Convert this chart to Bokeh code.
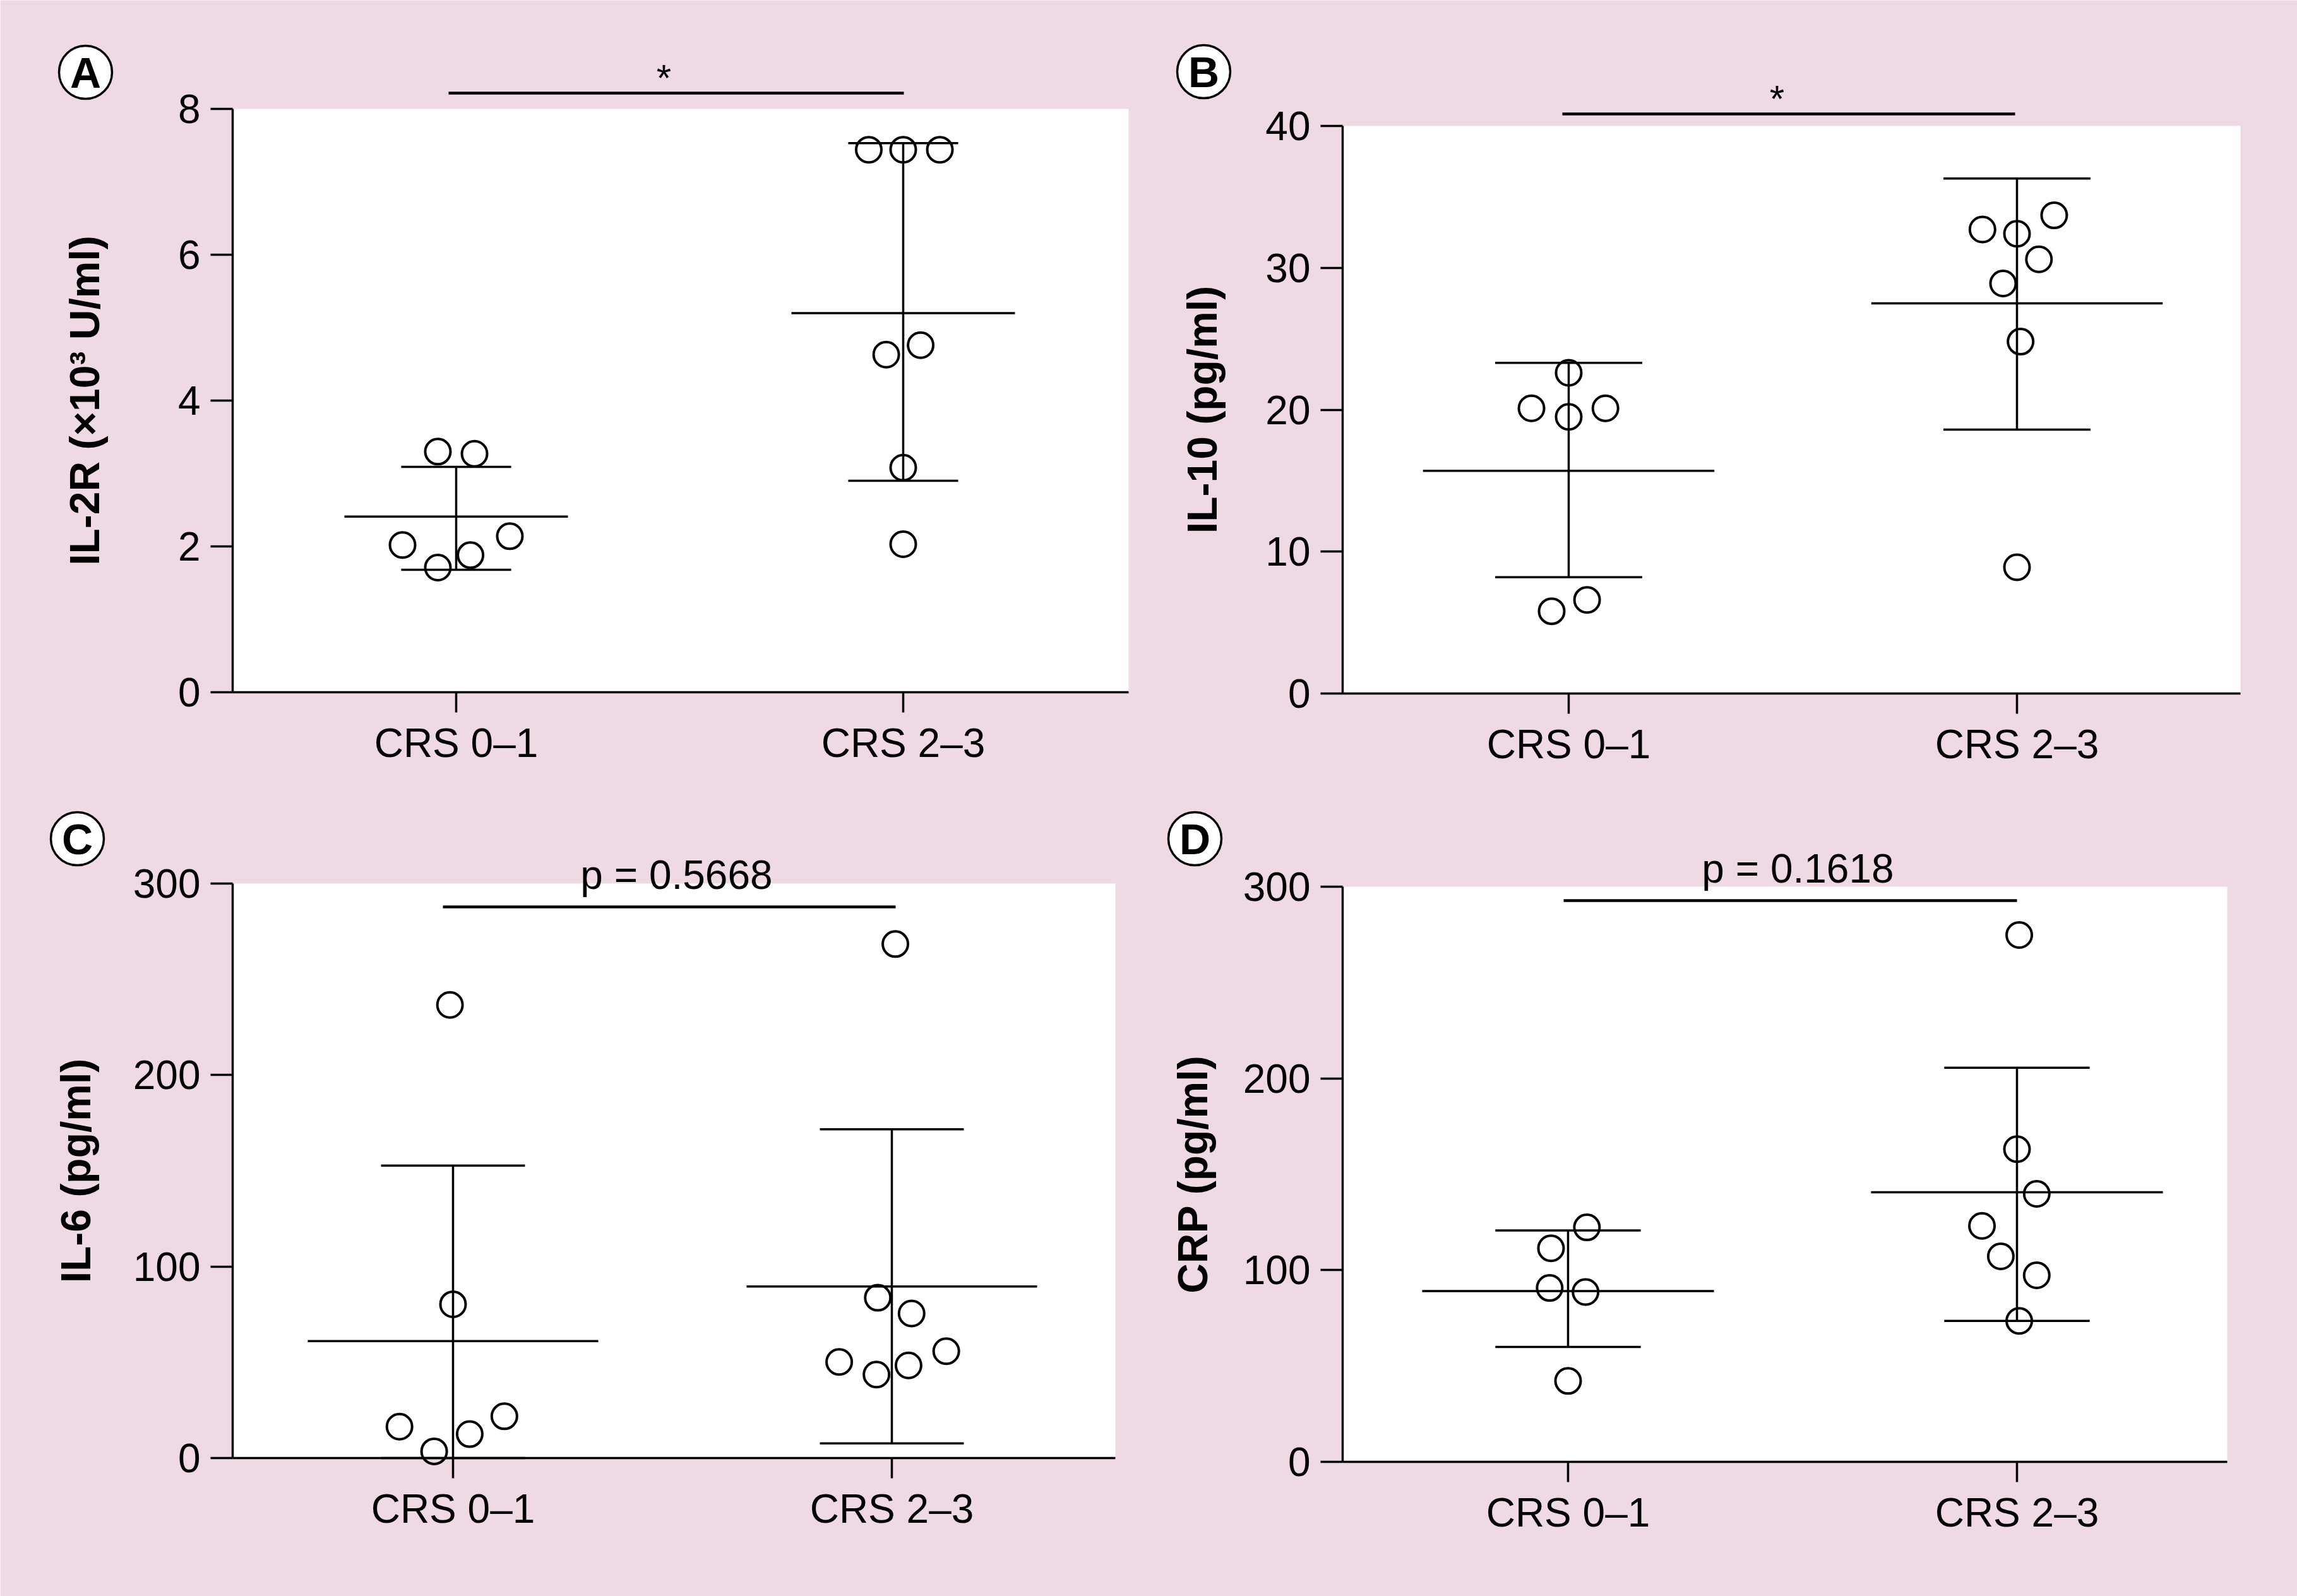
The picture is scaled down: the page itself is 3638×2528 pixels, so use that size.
from bokeh.plotting import figure
from bokeh.models import Range1d, FixedTicker, LinearAxis
from bokeh.core.properties import value
from bokeh.embed import file_html
from bokeh.resources import INLINE

PINK = "#EFD9E4"
FONT = "Liberation Sans"
PAGE_W, PAGE_H = 3638, 2528

categories = ["CRS 0–1", "CRS 2–3"]

# ---- Panel A: IL-2R (x10^3 U/ml)
il2r_low = [3.30, 3.27, 2.02, 2.14, 1.88, 1.71]
il2r_low_jitter = [-0.041, 0.041, -0.120, 0.120, 0.032, -0.041]
il2r_high = [7.44, 7.44, 7.44, 4.63, 4.76, 3.08, 2.03]
il2r_high_jitter = [-0.077, 0.0, 0.082, -0.038, 0.039, 0.0, 0.0]
il2r_mean = [2.41, 5.20]
il2r_upper = [3.09, 7.53]
il2r_lower = [1.68, 2.90]
il2r_ticks = [0, 2, 4, 6, 8]

# ---- Panel B: IL-10 (pg/ml)
il10_low = [22.6, 20.1, 19.5, 20.1, 5.8, 6.6]
il10_low_jitter = [0.0, -0.083, 0.0, 0.082, -0.038, 0.041]
il10_high = [32.7, 32.4, 33.7, 30.6, 28.9, 24.8, 8.9]
il10_high_jitter = [-0.077, 0.0, 0.083, 0.049, -0.031, 0.008, 0.0]
il10_mean = [15.7, 27.5]
il10_upper = [23.3, 36.3]
il10_lower = [8.2, 18.6]
il10_ticks = [0, 10, 20, 30, 40]

# ---- Panel C: IL-6 (pg/ml)
il6_low = [236.6, 80.3, 16.4, 21.8, 12.5, 3.5]
il6_low_jitter = [-0.007, 0.0, -0.122, 0.117, 0.038, -0.043]
il6_high = [268.4, 83.7, 75.5, 55.8, 50.2, 48.4, 43.6]
il6_high_jitter = [0.008, -0.032, 0.045, 0.124, -0.120, 0.038, -0.035]
il6_mean = [61.1, 89.6]
il6_upper = [152.7, 171.7]
il6_lower = [0.0, 7.7]
il6_ticks = [0, 100, 200, 300]

# ---- Panel D: CRP (pg/ml)
crp_low = [122.3, 111.4, 90.7, 88.6, 42.2]
crp_low_jitter = [0.042, -0.038, -0.041, 0.039, 0.0]
crp_high = [274.8, 163.1, 139.8, 123.1, 107.2, 97.3, 73.5]
crp_high_jitter = [0.005, 0.0, 0.044, -0.078, -0.036, 0.044, 0.005]
crp_mean = [89.1, 140.6]
crp_upper = [120.7, 205.6]
crp_lower = [59.9, 73.5]
crp_ticks = [0, 100, 200, 300]

y_labels = ["IL-2R (×10³ U/ml)", "IL-10 (pg/ml)", "IL-6 (pg/ml)", "CRP (pg/ml)"]
panel_letters = ["A", "B", "C", "D"]
sig_texts = ["*", "*", "p = 0.5668", "p = 0.1618"]

p = figure(width=PAGE_W, height=PAGE_H, output_backend="svg", toolbar_location=None,
           title=None, x_range=Range1d(0, PAGE_W), y_range=Range1d(0, PAGE_H),
           x_axis_type=None, y_axis_type=None,
           min_border_left=0, min_border_right=0, min_border_top=0, min_border_bottom=0)
p.background_fill_color = PINK
p.border_fill_color = PINK
p.outline_line_color = None


def add_panel(key, letter, ylabel, low, low_j, high, high_j, mean, upper, lower, ticks,
              sig_text, lay):
    ox, oy = lay["off"]
    unit = lay["c1"] - lay["c0"]
    tmax = ticks[-1]
    ppu = (lay["y0"] - lay["yt"]) / tmax

    def dx(px):
        return (px - lay["c0"]) / unit

    def dy(py):
        return (lay["y0"] - py) / ppu

    xn, yn = "x" + key, "y" + key
    p.extra_x_ranges[xn] = Range1d(dx(-ox), dx(PAGE_W - ox))
    p.extra_y_ranges[yn] = Range1d(dy(PAGE_H - oy), dy(-oy))
    rn = dict(x_range_name=xn, y_range_name=yn)

    x_white0, x_white1 = dx(lay["ax"]), dx(lay["wr"])
    p.quad(left=[x_white0], right=[x_white1], bottom=[0], top=[tmax],
           fill_color="white", line_color=None, **rn)

    common = dict(axis_line_width=3.5, axis_line_color="black",
                  major_tick_line_width=3.5, major_tick_line_color="black",
                  major_tick_in=0, minor_tick_line_color=None,
                  major_label_text_font=FONT, major_label_text_font_size="64px",
                  major_label_text_color="black")
    yax = LinearAxis(fixed_location=x_white0, ticker=FixedTicker(ticks=ticks),
                     bounds=(0, tmax), major_tick_out=35, major_label_standoff=16,
                     axis_label=ylabel, axis_label_text_font=FONT,
                     axis_label_text_font_style="bold", axis_label_text_font_size="66px",
                     axis_label_text_color="black",
                     axis_label_standoff=lay["ylab_standoff"], **common, **rn)
    p.add_layout(yax, "left")
    xax = LinearAxis(fixed_location=0, ticker=FixedTicker(ticks=[0, 1]),
                     bounds=(x_white0, x_white1),
                     major_label_overrides={0: categories[0], 1: categories[1]},
                     major_tick_out=32, major_label_standoff=12, **common, **rn)
    p.add_layout(xax, "below")

    mw, cw = lay["mean_hw"], lay["cap_hw"]
    xs = [0, 1]
    seg = dict(line_color="black", line_width=3.5, **rn)
    p.segment(x0=xs, y0=lower, x1=xs, y1=upper, **seg)
    p.segment(x0=[x - cw for x in xs], y0=upper, x1=[x + cw for x in xs], y1=upper, **seg)
    p.segment(x0=[x - cw for x in xs], y0=lower, x1=[x + cw for x in xs], y1=lower, **seg)
    p.segment(x0=[x - mw for x in xs], y0=mean, x1=[x + mw for x in xs], y1=mean, **seg)
    p.scatter(x=[0 + j for j in low_j], y=low, size=40, marker="circle",
              fill_color=None, line_color="black", line_width=4, **rn)
    p.scatter(x=[1 + j for j in high_j], y=high, size=40, marker="circle",
              fill_color=None, line_color="black", line_width=4, **rn)

    # significance bar and its text
    sy = dy(lay["sig_py"])
    p.segment(x0=[dx(lay["sig_px"][0])], y0=[sy], x1=[dx(lay["sig_px"][1])], y1=[sy],
              line_color="black", line_width=4.5, **rn)
    p.text(x=[dx(lay["txt_p"][0])], y=[dy(lay["txt_p"][1])], text=[sig_text],
           text_font=value(FONT), text_font_size=lay["txt_size"],
           text_align="center", text_baseline="alphabetic", text_color="black", **rn)

    # circled panel letter
    lx, ly = dx(lay["lab_p"][0]), dy(lay["lab_p"][1])
    p.scatter(x=[lx], y=[ly], size=84, marker="circle", fill_color="white",
              line_color="black", line_width=3.5, **rn)
    p.text(x=[lx], y=[ly], text=[letter], text_font=value(FONT), text_font_style="bold",
           text_font_size="68px", text_align="center", text_baseline="alphabetic",
           text_color="black", **rn)


lay_a = dict(off=(0, 0), ax=368, wr=1787, c0=722, c1=1430, y0=1096, yt=172,
             mean_hw=0.25, cap_hw=0.123, sig_py=147, sig_px=(710, 1431),
             txt_p=(1051, 123), txt_size="60px", lab_p=(135, 114), ylab_standoff=108)
lay_b = dict(off=(1819, 0), ax=307, wr=1729, c0=665, c1=1375, y0=1098, yt=199,
             mean_hw=0.325, cap_hw=0.164, sig_py=180, sig_px=(655, 1372),
             txt_p=(995, 156), txt_size="60px", lab_p=(87, 113), ylab_standoff=60)
lay_c = dict(off=(0, 1264), ax=368, wr=1766, c0=717, c1=1412, y0=1045, yt=135,
             mean_hw=0.331, cap_hw=0.164, sig_py=172, sig_px=(701, 1418),
             txt_p=(1071, 121), txt_size="64px", lab_p=(122, 64), ylab_standoff=51)
lay_d = dict(off=(1819, 1264), ax=307, wr=1708, c0=664, c1=1375, y0=1051, yt=140,
             mean_hw=0.325, cap_hw=0.162, sig_py=162, sig_px=(657, 1375),
             txt_p=(1028, 111), txt_size="64px", lab_p=(73, 64), ylab_standoff=40)

add_panel("a", panel_letters[0], y_labels[0], il2r_low, il2r_low_jitter, il2r_high,
          il2r_high_jitter, il2r_mean, il2r_upper, il2r_lower, il2r_ticks, sig_texts[0], lay_a)
add_panel("b", panel_letters[1], y_labels[1], il10_low, il10_low_jitter, il10_high,
          il10_high_jitter, il10_mean, il10_upper, il10_lower, il10_ticks, sig_texts[1], lay_b)
add_panel("c", panel_letters[2], y_labels[2], il6_low, il6_low_jitter, il6_high,
          il6_high_jitter, il6_mean, il6_upper, il6_lower, il6_ticks, sig_texts[2], lay_c)
add_panel("d", panel_letters[3], y_labels[3], crp_low, crp_low_jitter, crp_high,
          crp_high_jitter, crp_mean, crp_upper, crp_lower, crp_ticks, sig_texts[3], lay_d)

open("out.html", "w").write(file_html(p, INLINE))
